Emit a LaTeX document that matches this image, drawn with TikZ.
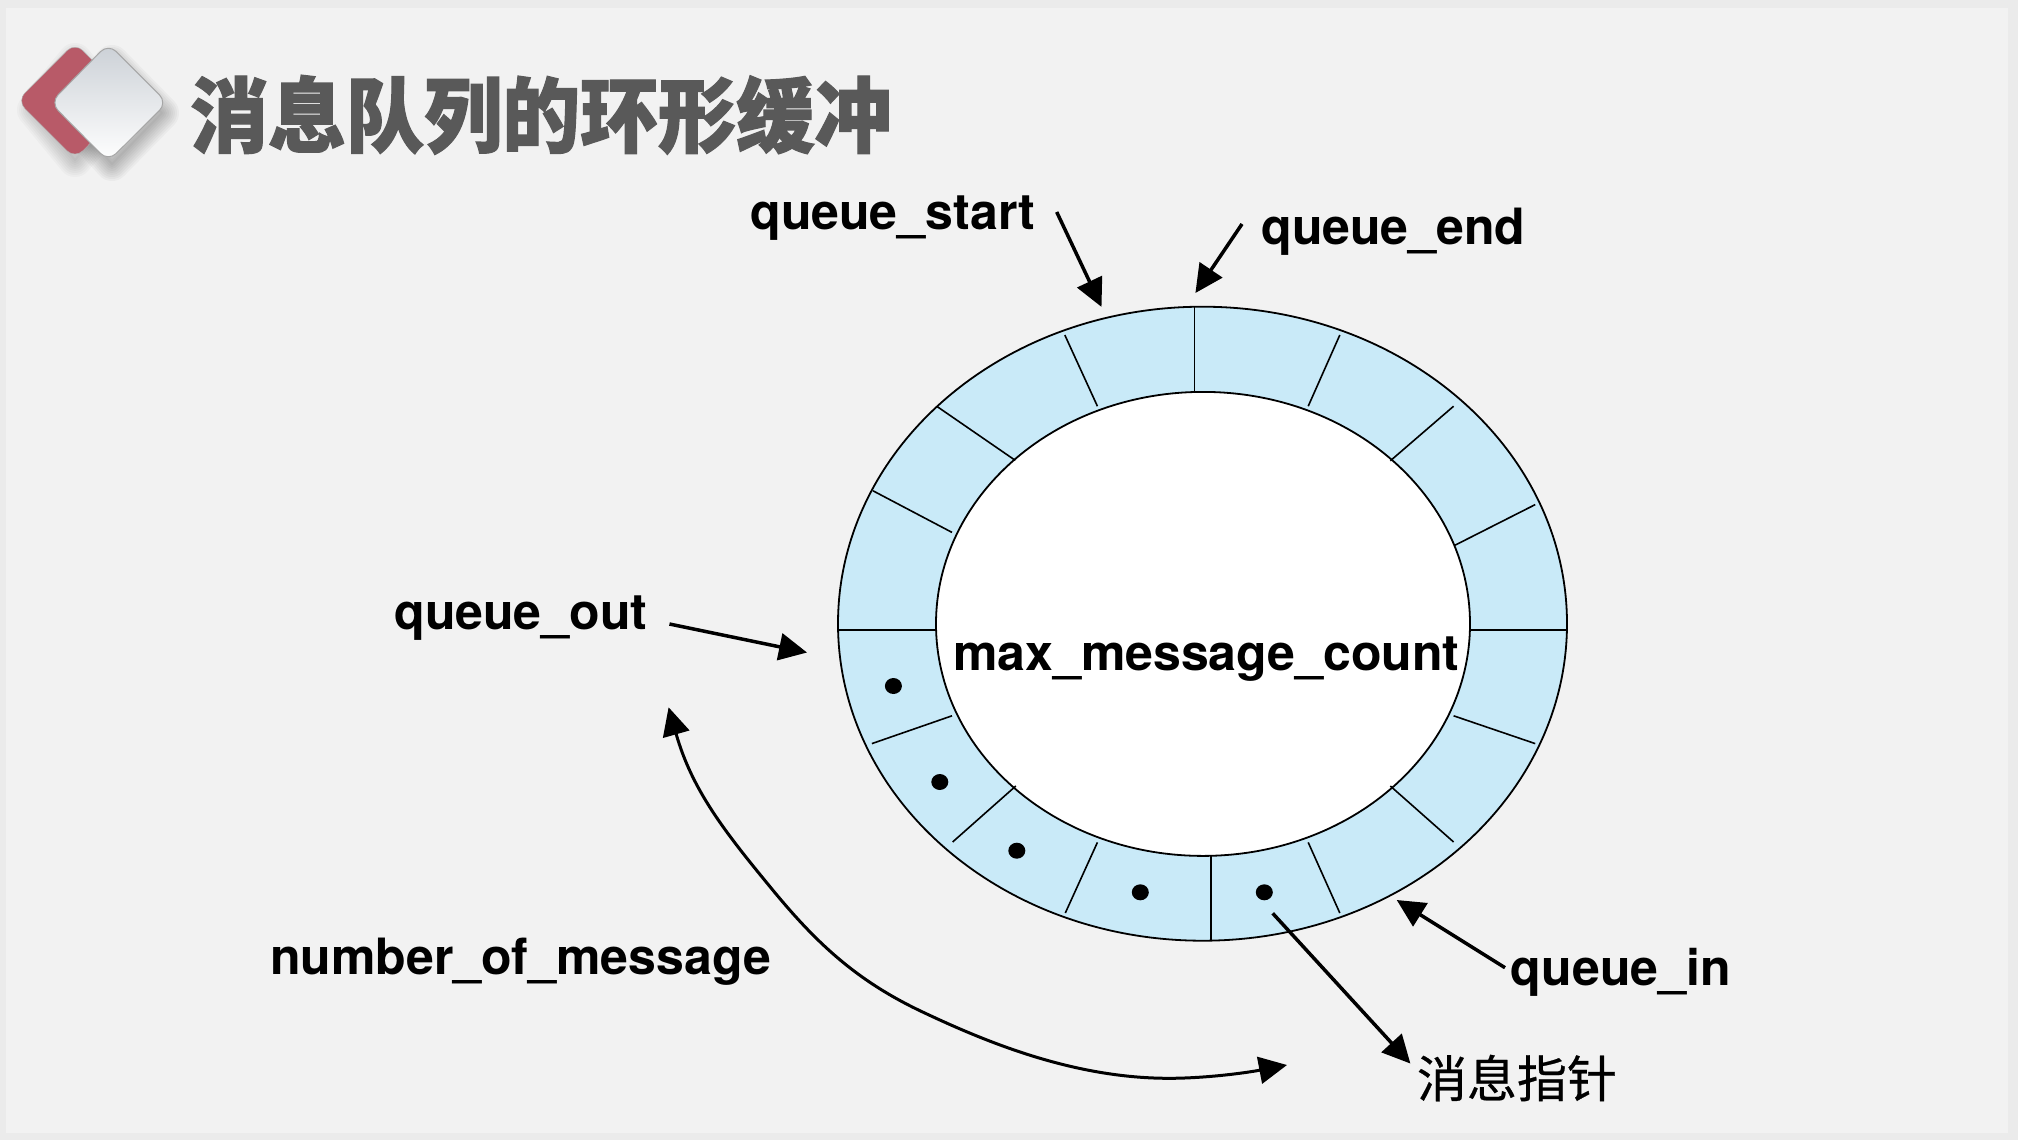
\documentclass[tikz,border=0pt]{standalone}
\usepackage{fontspec}
\setmainfont{TeX Gyre Heros}
\newfontfamily\cjk[BoldFeatures={FakeBold=1.5}]{Noto Sans CJK SC}
\newfontfamily\cjkmid[FakeBold=0.5]{Noto Sans CJK SC}
\usetikzlibrary{arrows.meta}
\usetikzlibrary{shapes.geometric}

\definecolor{pageedge}{HTML}{EBEBEB}
\definecolor{pagebg}{HTML}{F2F2F2}
\definecolor{ringblue}{HTML}{C9EAF8}
\definecolor{iconred}{HTML}{B85A68}
\definecolor{icongray}{HTML}{CBD0D6}
\definecolor{titlegray}{HTML}{595959}

\tikzset{
  label/.style={inner sep=0pt, font=\fontsize{50}{50}\selectfont\bfseries, anchor=base west},
  slot/.style={line width=1.6pt},
  msgdot/.style={ellipse, fill=black, inner sep=0pt, minimum width=17pt, minimum height=16pt},
  bigarrow/.style={line width=3.5pt, -{Triangle[length=28pt,width=27pt]}},
  longarrow/.style={line width=3pt, {Triangle[length=28pt,width=27pt]}-{Triangle[length=28pt,width=27pt]}},
}

\begin{document}
\begin{tikzpicture}[x=1pt,y=-1pt]
        \useasboundingbox (0,0) rectangle (2018,1140);

        % Draw the page
        \fill[pageedge] (0,0) rectangle (2018,1140);
        \fill[pagebg] (6,8) rectangle (2008,1133);

        % Draw the icon shadows
        \foreach \w in {2,6,...,34} {
            \draw[black, opacity=0.022, line width=\w pt, line join=round] (75,60) -- (118,110) -- (75,160) -- (34,110) -- cycle;
            \draw[black, opacity=0.03, line width=\w pt, line join=round] (112,62) -- (162,113) -- (112,164) -- (66,113) -- cycle;
        }

        % Draw the icon
        \fill[iconred, draw=gray!60, rounded corners=11pt] (75,42.7) -- (132.6,100.7) -- (75,158.6) -- (17.1,100.7) -- cycle;
        \draw[draw=gray!70, top color=icongray, bottom color=white, rounded corners=11pt, line width=1pt] (108.3,43.7) -- (167.3,102.7) -- (108.3,161.3) -- (50.4,102.7) -- cycle;

        % Draw the title
        \node[inner sep=0pt, anchor=base west, text=titlegray, yscale=1.05, transform shape, font=\cjk\fontsize{78}{78}\selectfont\bfseries] (title) at (190,146) {消息队列的环形缓冲};

        % Draw the ring
        \draw[line width=1.8pt, fill=ringblue] (1202.5,623.7) ellipse (364.5 and 317);
        \draw[line width=1.8pt, fill=white] (1203,623.9) ellipse (267 and 232);

        % Draw the slots of the ring
        \foreach \xa/\ya/\xb/\yb in {
            1194.4/306.9/1194.4/391.9, 1064.8/335/1097.4/406.2, 937.2/406.6/1015.3/460.4,
            873/490.8/952/532.4, 838/630/936/630, 1470/630/1567/630,
            1339.8/335/1308.2/406.2, 1453.6/406.2/1390.3/460.8, 1535.2/504.6/1454.6/545.4,
            1453.6/715.8/1535.2/743.6, 1390.3/786/1453.6/842, 1308.2/842.4/1339.8/913,
            1211.2/856/1211.2/940.5, 1097.4/842.4/1065.3/913, 1015.8/786/952.6/842,
            952/715.8/871.9/743.6} {
            \draw[slot] (\xa,\ya) -- (\xb,\yb);
        }

        % Draw the messages
        \node[msgdot] (dot1) at (893.4,686) {};
        \node[msgdot] (dot2) at (939.8,782) {};
        \node[msgdot] (dot3) at (1016.8,850.7) {};
        \node[msgdot] (dot4) at (1140.3,892.3) {};
        \node[msgdot] (dot5) at (1264.3,892.3) {};

        % Draw the labels
        \node[label] (maxcount) at (953,670) {max\_message\_count};
        \node[label] (qstart) at (750,229) {queue\_start};
        \node[label] (qend) at (1261,244.5) {queue\_end};
        \node[label] (qout) at (394,629) {queue\_out};
        \node[label] (qin) at (1510.7,985) {queue\_in};
        \node[label] (nummsg) at (270,974) {number\_of\_message};
        \node[inner sep=0pt, font=\cjkmid\fontsize{50}{50}\selectfont] (msgptr) at (1517,1078) {消息指针};

        % Draw the arrows
        \coordinate (qstarttip) at (1101.5,306.9);
        \coordinate (qendtip) at (1195.4,293);
        \coordinate (qouttip) at (807,652.5);
        \coordinate (qintip) at (1396.7,900);
        \draw[bigarrow] ([xshift=21.4pt,yshift=17pt]qstart.base east) -- (qstarttip);
        \draw[bigarrow] ([xshift=-19pt,yshift=20.5pt]qend.base west) -- (qendtip);
        \draw[bigarrow] ([xshift=22pt,yshift=5pt]qout.base east) -- (qouttip);
        \draw[bigarrow] ([xshift=-5.7pt,yshift=17.3pt]qin.base west) -- (qintip);
        \draw[bigarrow] ([xshift=8.4pt,yshift=-21pt]dot5.center) -- ([xshift=-6.4pt,yshift=-9pt]msgptr.north west);

        % Draw the span of the messages
        \coordinate (spanstart) at (668.6,707.3);
        \coordinate (spanend) at (1287,1065);
        \draw[longarrow] (spanstart) .. controls (692,790) and (725,832) .. (770,886.7)
            .. controls (815,941.7) and (855,980) .. (922,1011.7)
            .. controls (989,1043.4) and (1075,1078.3) .. (1169,1078.3)
            .. controls (1205,1078.3) and (1245,1073) .. (spanend);
\end{tikzpicture}
\end{document}
